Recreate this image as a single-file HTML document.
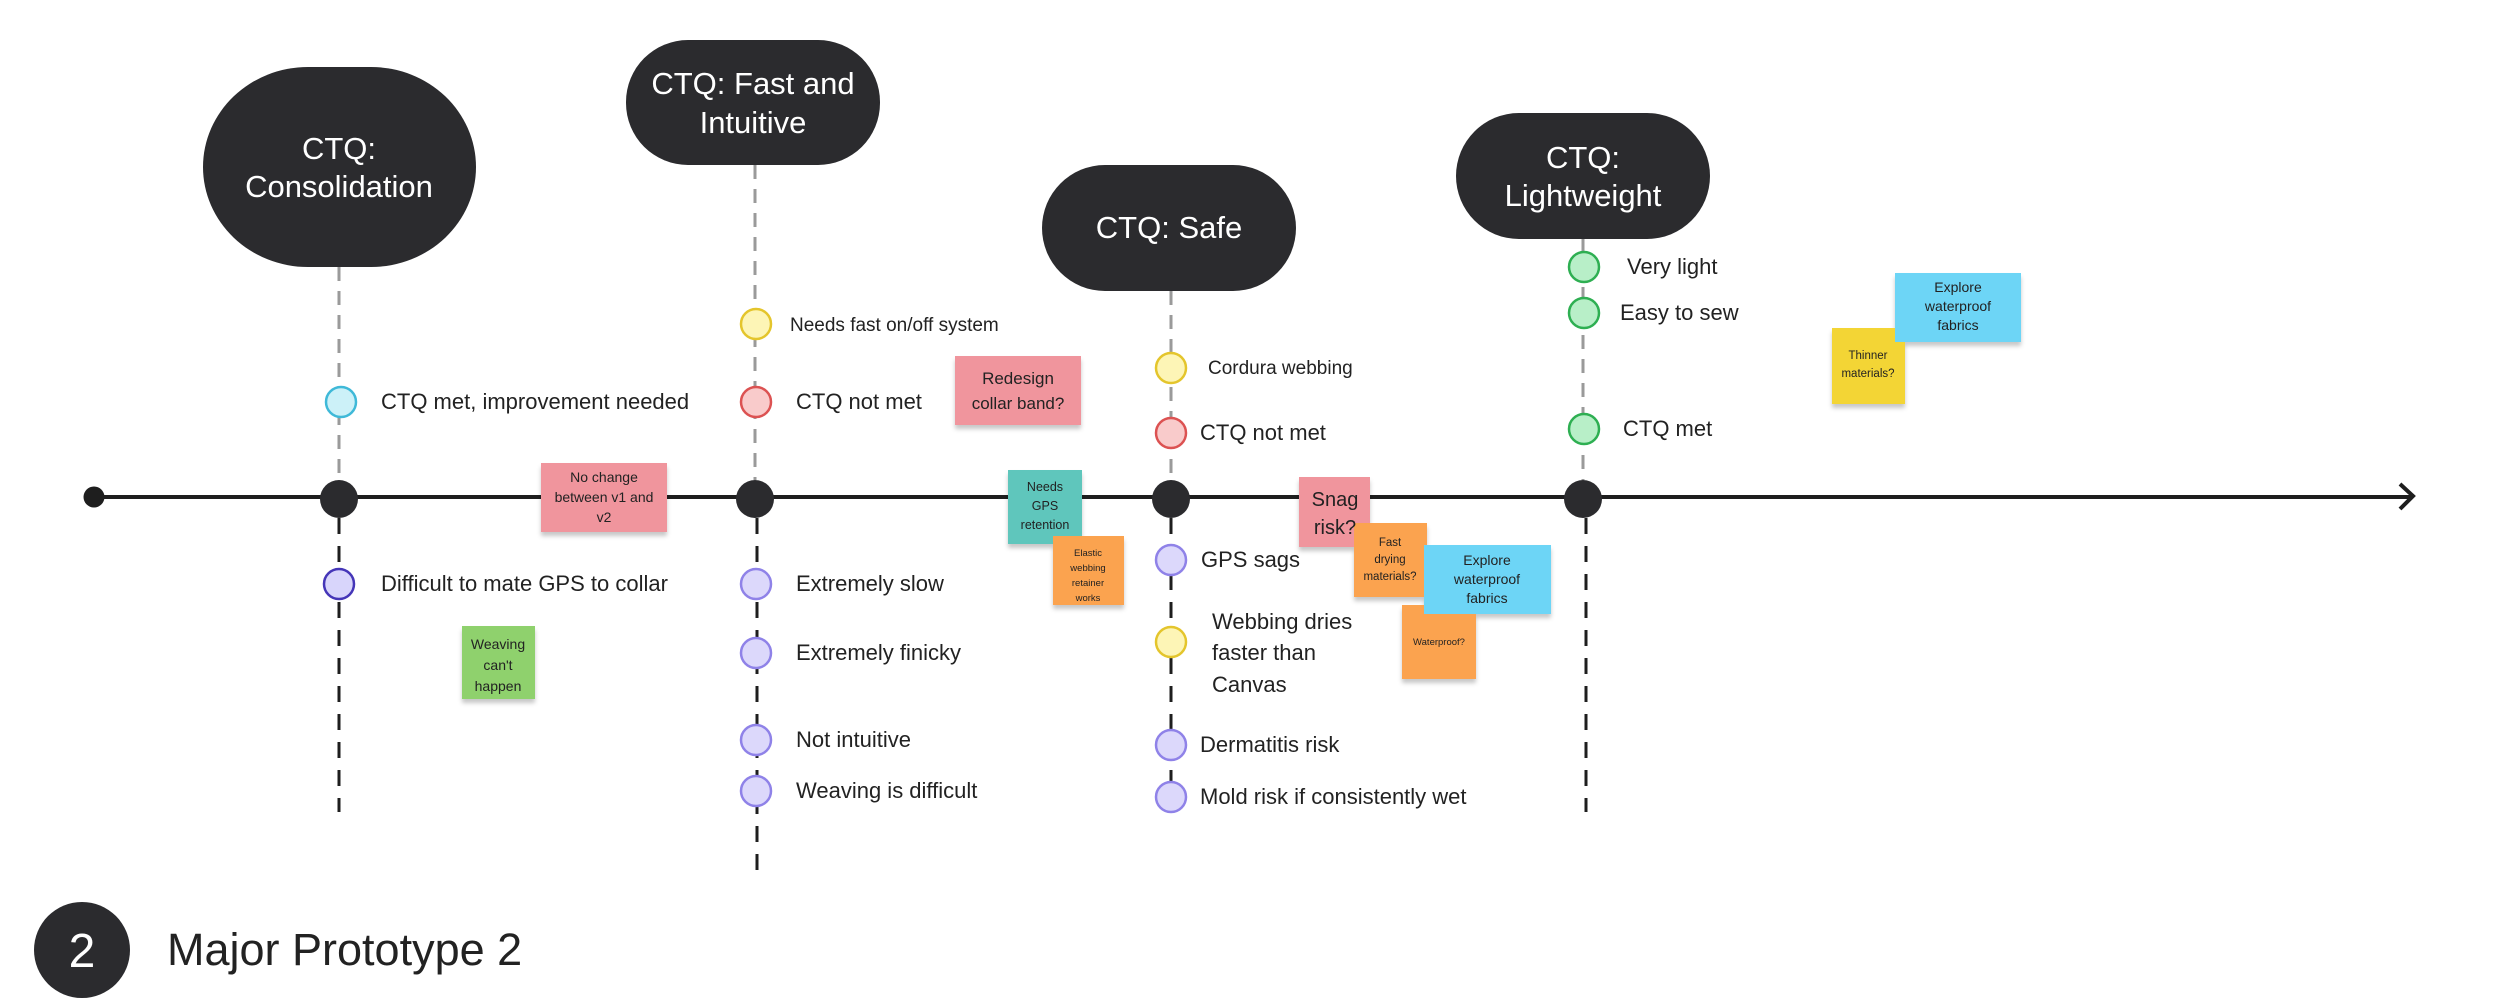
<!DOCTYPE html>
<html><head><meta charset="utf-8"><style>
html,body{margin:0;padding:0;background:#fff;}
svg{display:block;}
text{font-family:"Liberation Sans",sans-serif;}
</style></head><body>
<svg width="2500" height="999" viewBox="0 0 2500 999" xmlns="http://www.w3.org/2000/svg">
<defs>
<filter id="sh" x="-10%" y="-10%" width="120%" height="130%"><feDropShadow dx="0" dy="4" stdDeviation="2" flood-color="#000" flood-opacity="0.22"/></filter>
</defs>
<!-- grey dashed upper connectors -->
<g stroke="#9a9a9a" stroke-width="3" stroke-dasharray="14,10" fill="none">
<line x1="339" y1="267" x2="339" y2="480"/>
<line x1="755" y1="165" x2="755" y2="480"/>
<line x1="1171" y1="291" x2="1171" y2="480"/>
<line x1="1583" y1="239" x2="1583" y2="480"/>
</g>
<!-- black dashed lower connectors -->
<g stroke="#1e1e1e" stroke-width="3" stroke-dasharray="16,12" fill="none">
<line x1="339" y1="518" x2="339" y2="812"/>
<line x1="757" y1="518" x2="757" y2="870"/>
<line x1="1171" y1="518" x2="1171" y2="812"/>
<line x1="1586" y1="518" x2="1586" y2="812"/>
</g>
<!-- timeline -->
<line x1="94" y1="497" x2="2411" y2="497" stroke="#1e1e1e" stroke-width="4"/>
<polyline points="2400,484 2413,496 2400,509" fill="none" stroke="#1e1e1e" stroke-width="4"/>
<circle cx="94" cy="497" r="10.5" fill="#1e1e1e"/>
<g fill="#2b2b2e">
<circle cx="339" cy="499" r="19"/>
<circle cx="755" cy="499" r="19"/>
<circle cx="1171" cy="499" r="19"/>
<circle cx="1583" cy="499" r="19"/>
</g>
<!-- CTQ bubbles -->
<g fill="#2b2b2e">
<rect x="203" y="67" width="273" height="200" rx="105" ry="100"/>
<rect x="626" y="40" width="254" height="125" rx="62"/>
<rect x="1042" y="165" width="254" height="126" rx="63"/>
<rect x="1456" y="113" width="254" height="126" rx="63"/>
</g>
<g fill="#fff" font-size="31" text-anchor="middle">
<text x="339" y="159">CTQ:</text>
<text x="339" y="197">Consolidation</text>
<text x="753" y="94">CTQ: Fast and</text>
<text x="753" y="133">Intuitive</text>
<text x="1169" y="238">CTQ: Safe</text>
<text x="1583" y="168">CTQ:</text>
<text x="1583" y="206">Lightweight</text>
</g>
<!-- status circles -->
<g stroke-width="2.5">
<circle cx="341" cy="402" r="15" fill="#ccf1f8" stroke="#3fb9d8"/>
<circle cx="339" cy="584" r="15" fill="#d8d5fb" stroke="#4536b8"/>
<circle cx="756" cy="324" r="15" fill="#fdf5b6" stroke="#e4c52c"/>
<circle cx="756" cy="402" r="15" fill="#f9cbcb" stroke="#dc5252"/>
<circle cx="756" cy="584" r="15" fill="#dcd8fb" stroke="#8f82e8"/>
<circle cx="756" cy="653" r="15" fill="#dcd8fb" stroke="#8f82e8"/>
<circle cx="756" cy="740" r="15" fill="#dcd8fb" stroke="#8f82e8"/>
<circle cx="756" cy="791" r="15" fill="#dcd8fb" stroke="#8f82e8"/>
<circle cx="1171" cy="368" r="15" fill="#fdf5b6" stroke="#e4c52c"/>
<circle cx="1171" cy="433" r="15" fill="#f9cbcb" stroke="#dc5252"/>
<circle cx="1171" cy="560" r="15" fill="#dcd8fb" stroke="#8f82e8"/>
<circle cx="1171" cy="642" r="15" fill="#fdf5b6" stroke="#e4c52c"/>
<circle cx="1171" cy="745" r="15" fill="#dcd8fb" stroke="#8f82e8"/>
<circle cx="1171" cy="797" r="15" fill="#dcd8fb" stroke="#8f82e8"/>
<circle cx="1584" cy="267" r="15" fill="#b8efc8" stroke="#2eaf52"/>
<circle cx="1584" cy="313" r="15" fill="#b8efc8" stroke="#2eaf52"/>
<circle cx="1584" cy="429" r="15" fill="#b8efc8" stroke="#2eaf52"/>
</g>
<g fill="#222" font-size="22">
<text x="381" y="409">CTQ met, improvement needed</text>
<text x="381" y="591">Difficult to mate GPS to collar</text>
<text x="790" y="331" font-size="19">Needs fast on/off system</text>
<text x="796" y="409">CTQ not met</text>
<text x="796" y="591">Extremely slow</text>
<text x="796" y="660">Extremely finicky</text>
<text x="796" y="747">Not intuitive</text>
<text x="796" y="798">Weaving is difficult</text>
<text x="1208" y="374" font-size="19">Cordura webbing</text>
<text x="1200" y="440">CTQ not met</text>
<text x="1201" y="567">GPS sags</text>
<text x="1212" y="629">Webbing dries</text>
<text x="1212" y="660">faster than</text>
<text x="1212" y="692">Canvas</text>
<text x="1200" y="752">Dermatitis risk</text>
<text x="1200" y="804">Mold risk if consistently wet</text>
<text x="1627" y="274">Very light</text>
<text x="1620" y="320">Easy to sew</text>
<text x="1623" y="436">CTQ met</text>
</g>
<!-- stickies -->
<g filter="url(#sh)">
<rect x="541" y="463" width="126" height="69" fill="#f0959d"/>
<rect x="462" y="626" width="73" height="73" fill="#8fd16d"/>
<rect x="955" y="356" width="126" height="69" fill="#f0959d"/>
<rect x="1008" y="470" width="74" height="74" fill="#5ec6bc"/>
<rect x="1053" y="536" width="71" height="69" fill="#fba34f"/>
<rect x="1299" y="477" width="71" height="70" fill="#f0959d"/>
<rect x="1354" y="523" width="73" height="74" fill="#fba34f"/>
<rect x="1402" y="605" width="74" height="74" fill="#fba34f"/>
<rect x="1424" y="545" width="127" height="69" fill="#6dd5f6"/>
<rect x="1832" y="328" width="73" height="76" fill="#f3d535"/>
<rect x="1895" y="273" width="126" height="69" fill="#6dd5f6"/>
</g>
<g fill="#222" text-anchor="middle">
<g font-size="14"><text x="604" y="482">No change</text><text x="604" y="502">between v1 and</text><text x="604" y="522">v2</text></g>
<g font-size="14"><text x="498" y="649">Weaving</text><text x="498" y="670">can't</text><text x="498" y="691">happen</text></g>
<g font-size="17"><text x="1018" y="384">Redesign</text><text x="1018" y="409">collar band?</text></g>
<g font-size="12.5"><text x="1045" y="491">Needs</text><text x="1045" y="510">GPS</text><text x="1045" y="529">retention</text></g>
<g font-size="9.5"><text x="1088" y="556">Elastic</text><text x="1088" y="571">webbing</text><text x="1088" y="586">retainer</text><text x="1088" y="601">works</text></g>
<g font-size="20"><text x="1335" y="506">Snag</text><text x="1335" y="534">risk?</text></g>
<g font-size="11.5"><text x="1390" y="546">Fast</text><text x="1390" y="563">drying</text><text x="1390" y="580">materials?</text></g>
<g font-size="9.5"><text x="1439" y="645">Waterproof?</text></g>
<g font-size="14"><text x="1487" y="565">Explore</text><text x="1487" y="584">waterproof</text><text x="1487" y="603">fabrics</text></g>
<g font-size="11.5"><text x="1868" y="359">Thinner</text><text x="1868" y="377">materials?</text></g>
<g font-size="14"><text x="1958" y="292">Explore</text><text x="1958" y="311">waterproof</text><text x="1958" y="330">fabrics</text></g>
</g>
<!-- footer -->
<circle cx="82" cy="950" r="48" fill="#2b2b2e"/>
<text x="82" y="967" fill="#fff" font-size="48" text-anchor="middle">2</text>
<text x="167" y="965" fill="#222" font-size="45">Major Prototype 2</text>
</svg>
</body></html>
